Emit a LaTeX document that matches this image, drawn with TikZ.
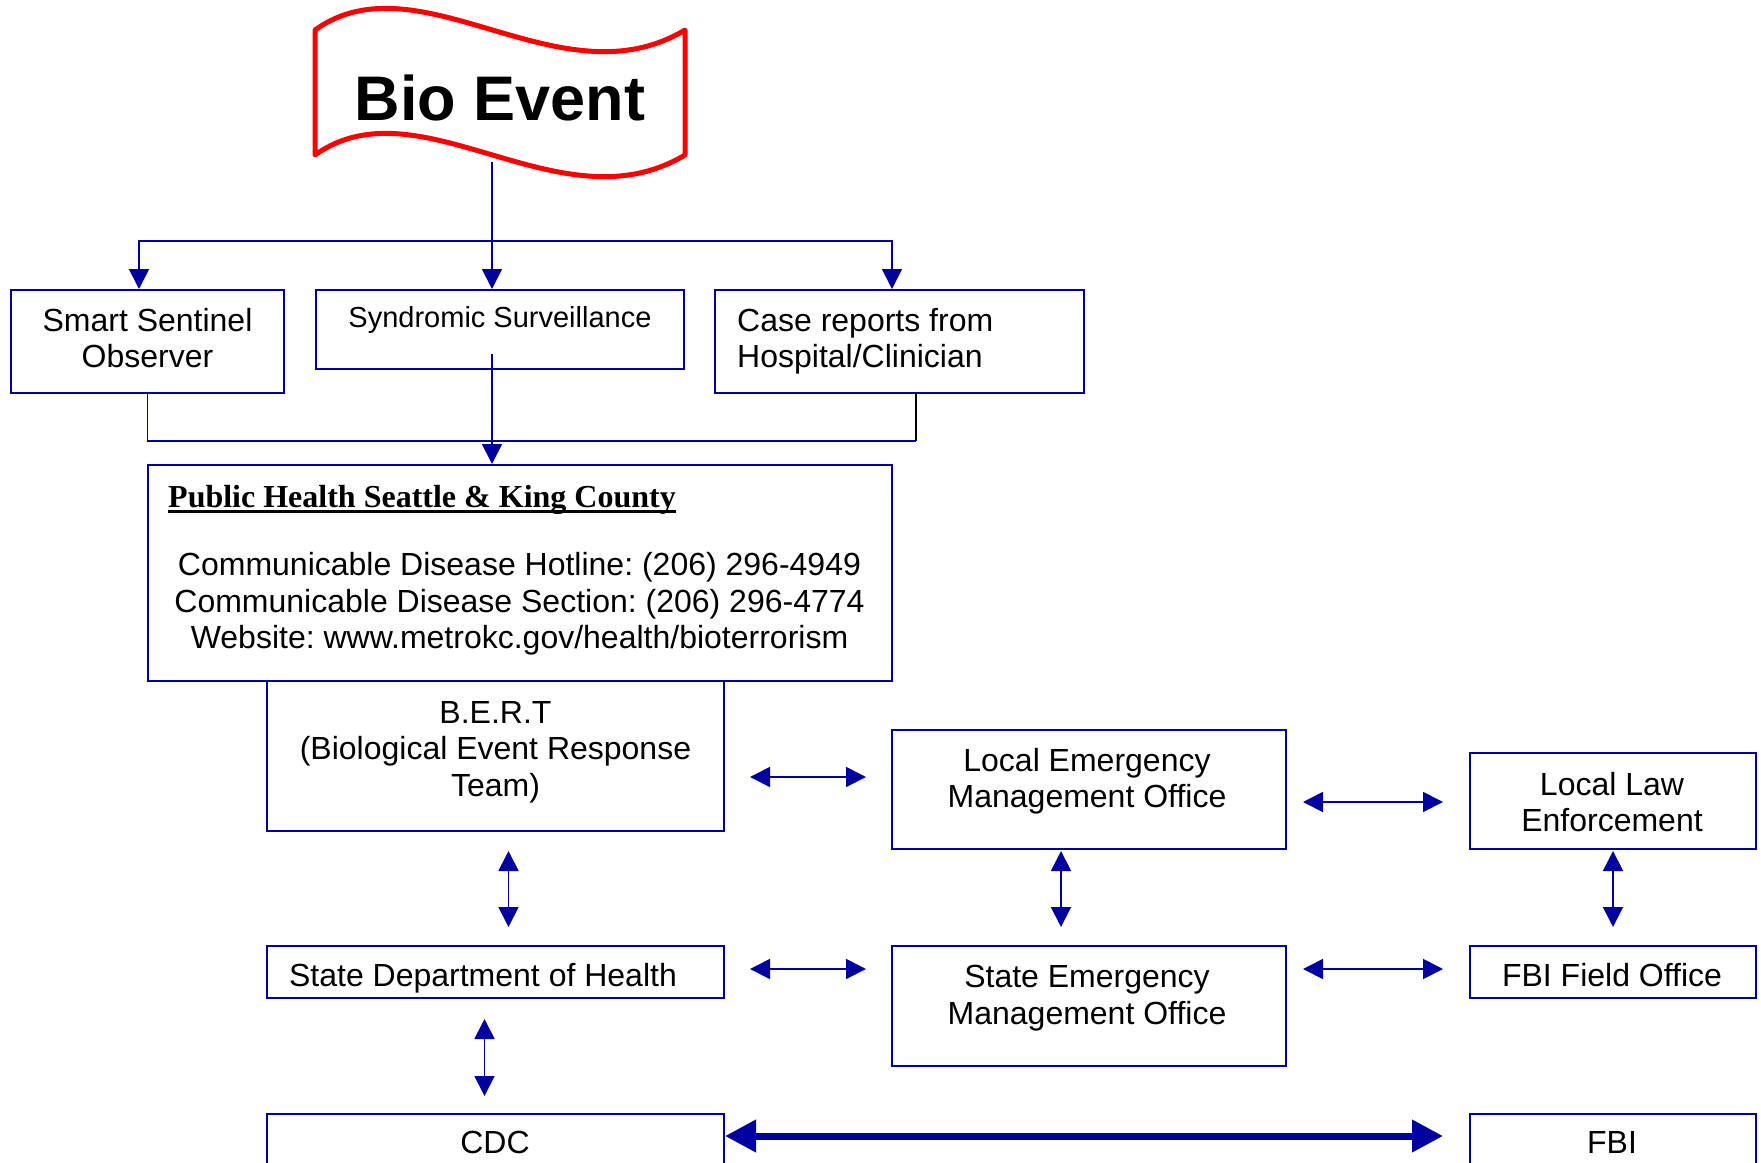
\documentclass[tikz,border=0pt]{standalone}
\usepackage{fontspec}
\setmainfont{Liberation Sans}
\newfontfamily\timesfont{Liberation Serif}
\usetikzlibrary{arrows.meta}
\definecolor{navyline}{RGB}{0,0,160}
\definecolor{flagred}{RGB}{255,0,0}
\frenchspacing
\newcommand{\boxfont}{\fontsize{32}{36.5}\selectfont}
\newcommand{\ulbold}[1]{\setbox0\hbox{#1}\rlap{\rule[-6pt]{\wd0}{3pt}}\box0}
\tikzset{
  box/.style={draw=navyline, line width=2pt, inner sep=0pt},
  txt/.style={font=\boxfont, align=center, inner sep=0pt},
  link/.style={draw=navyline, line width=1.8pt},
  oneway/.style={link, ->},
  twoway/.style={link, <->},
  bigway/.style={draw=navyline, line width=7pt, {Triangle[length=31pt,width=31pt]}-{Triangle[length=31pt,width=31pt]}}
}
\begin{document}
\begin{tikzpicture}[x=1pt, y=-1pt, >={Triangle[length=20pt,width=20pt]}]
  \useasboundingbox (0,0) rectangle (1761,1162);
  \clip (0,0) rectangle (1761,1162);

  % the bio event flag
  \draw[flagred, line width=5pt, line join=round, fill=white]
    (315,30) .. controls (420,-45) and (560,105) .. (685,30) -- (685,155)
    .. controls (560,230) and (420,80) .. (315,155) -- cycle;
  \node[anchor=base, inner sep=0pt, font=\bfseries\fontsize{63}{70}\selectfont] (bio) at (500,120) {Bio Event};
  \coordinate (biofoot) at (492,162);
  \coordinate (split) at (492,241);
  \coordinate (join) at (492,441);

  % boxes
  \node[box, minimum width=273pt, minimum height=103pt] (ss) at (147.5,341.5) {};
  \node[box, minimum width=368pt, minimum height=79pt] (syn) at (500,329.5) {};
  \node[box, minimum width=369pt, minimum height=103pt] (cr) at (899.5,341.5) {};
  \node[box, minimum width=744pt, minimum height=216pt] (ph) at (520,573) {};
  \node[box, minimum width=457pt, minimum height=150pt] (bert) at (495.5,756) {};
  \node[box, minimum width=394pt, minimum height=119pt] (lemo) at (1089,789.5) {};
  \node[box, minimum width=286pt, minimum height=96pt] (lle) at (1613,801) {};
  \node[box, minimum width=457pt, minimum height=52pt] (sdh) at (495.5,972) {};
  \node[box, minimum width=394pt, minimum height=120pt] (semo) at (1089,1006) {};
  \node[box, minimum width=286pt, minimum height=52pt] (fbifo) at (1613,972) {};
  \node[box, minimum width=457pt, minimum height=100pt] (cdc) at (495.5,1164) {};
  \node[box, minimum width=286pt, minimum height=100pt] (fbi) at (1613,1164) {};

  % texts
  \node[txt] (ss-t) at (147.5,338) {Smart Sentinel\\Observer};
  \node[txt, anchor=base, font=\fontsize{29}{33}\selectfont] (syn-t) at (500,327) {Syndromic Surveillance};
  \node[txt, anchor=west, align=left] (cr-t) at (737,341) {Case reports from\\Hospital/Clinician};
  \node[anchor=base west, inner sep=0pt, font=\timesfont\bfseries\fontsize{32}{36}\selectfont] (ph-title) at (168,507)
    {\ulbold{Public Health Seattle \& King County}};
  \node[txt] (ph-t) at (519.5,604) {Communicable Disease Hotline: (206) 296-4949\\
    Communicable Disease Section: (206) 296-4774\\Website: www.metrokc.gov/health/bioterrorism};
  \node[txt] (bert-t) at (495.5,752) {B.E.R.T\\(Biological Event Response\\Team)};
  \node[txt] (lemo-t) at (1087,781) {Local Emergency\\Management Office};
  \node[txt] (lle-t) at (1612,802) {Local Law\\Enforcement};
  \node[txt, anchor=base] (sdh-t) at (483,986) {State Department of Health};
  \node[txt] (semo-t) at (1087,998) {State Emergency\\Management Office};
  \node[txt, anchor=base] (fbifo-t) at (1612,986) {FBI Field Office};
  \node[txt, anchor=base] (cdc-t) at (495,1153) {CDC};
  \node[txt, anchor=base] (fbi-t) at (1612,1153) {FBI};

  % reports in
  \draw[link] (biofoot) -- (split);
  \draw[oneway] (split) -| ([xshift=-8.5pt]ss.north);
  \draw[oneway] (split) -| ([xshift=-7.5pt]cr.north);
  \draw[oneway] (split) -- ([xshift=-8pt]syn.north);
  \coordinate (crfoot) at ([xshift=16.5pt]cr.south);
  \draw[link] (ss.south) |- (crfoot |- join);
  \draw[link, draw=black] (crfoot) -- (crfoot |- join);
  \draw[oneway] ([xshift=-8pt,yshift=-24.5pt]syn.center) -- ([xshift=-28pt]ph.north);

  % two way links
  \draw[twoway, shorten <=25pt, shorten >=25pt] ([yshift=-21pt]bert.east) -- ([yshift=12.5pt]lemo.west);
  \draw[twoway, shorten <=16pt, shorten >=26pt] ([yshift=-12.5pt]lemo.east) -- ([yshift=-1pt]lle.west);
  \draw[twoway, shorten <=25pt, shorten >=25pt] ([yshift=3pt]sdh.east) -- ([yshift=37pt]semo.west);
  \draw[twoway, shorten <=16pt, shorten >=26pt] ([yshift=37pt]semo.east) -- ([yshift=3pt]fbifo.west);
  \draw[twoway, shorten <=19pt, shorten >=18pt] ([xshift=13pt]bert.south) -- ([xshift=13pt]sdh.north);
  \draw[twoway, shorten <=1pt, shorten >=18pt] ([xshift=-28pt]lemo.south) -- ([xshift=-28pt]semo.north);
  \draw[twoway, shorten <=1pt, shorten >=18pt] (lle.south) -- (fbifo.north);
  \draw[twoway, shorten <=20pt, shorten >=17pt] ([xshift=-11pt]sdh.south) -- ([xshift=-11pt]cdc.north);
  \draw[bigway, shorten >=26pt] ([yshift=-23pt]cdc.north east) -- ([yshift=-23pt]fbi.north west);
\end{tikzpicture}
\end{document}
